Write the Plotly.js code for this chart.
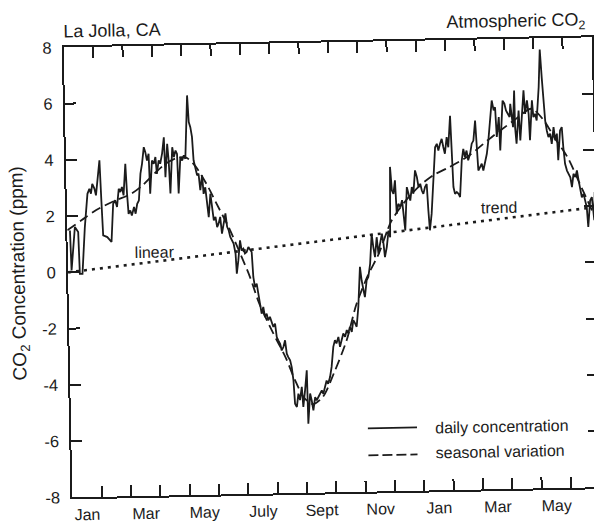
<!DOCTYPE html>
<html>
<head>
<meta charset="utf-8">
<script src="https://cdn.plot.ly/plotly-3.0.1.min.js"></script>
<style>
  html, body { margin: 0; padding: 0; overflow: hidden; background: #ffffff; }
  #chart {
    width: 610px;
    height: 529px;
    transform: rotate(-1.1deg);
    transform-origin: 297px 264.5px;
  }
</style>
</head>
<body>
<div id="chart"></div>
<script>
// Time axis is in months since 1 January of the first year (0 .. 18).
const monthLabels = ['Jan', 'Mar', 'May', 'July', 'Sept', 'Nov', 'Jan', 'Mar', 'May'];
const monthLabelPos = [0.5, 2.5, 4.5, 6.5, 8.5, 10.5, 12.5, 14.5, 16.5];
const monthStarts = [1, 2, 3, 4, 5, 6, 7, 8, 9, 10, 11, 12, 13, 14, 15, 16, 17];

const yTickVals = [-8, -6, -4, -2, 0, 2, 4, 6, 8];
const yTickText = ['-8', '-6', '-4', '-2', '0', '2', '4', '6', '8'];

// Daily CO2 concentration anomaly (ppm)
const dailyMonth = [
  0.09, 0.12, 0.26, 0.37, 0.40, 0.49, 0.60, 0.71, 0.78, 0.83, 0.88, 0.95, 1.00, 1.14, 1.18, 1.22,
  1.36, 1.45, 1.50, 1.58, 1.65, 1.71, 1.78, 1.83, 1.89, 1.94, 2.02, 2.06, 2.10, 2.16, 2.21, 2.29,
  2.34, 2.40, 2.46, 2.53, 2.59, 2.66, 2.71, 2.76, 2.82, 2.85, 2.93, 2.99, 3.05, 3.09, 3.16, 3.21,
  3.28, 3.35, 3.38, 3.46, 3.50, 3.54, 3.63, 3.68, 3.74, 3.79, 3.82, 3.90, 3.96, 4.02, 4.07, 4.17,
  4.21, 4.26, 4.31, 4.35, 4.40, 4.46, 4.51, 4.56, 4.63, 4.67, 4.73, 4.78, 4.83, 4.90, 4.95, 5.00,
  5.06, 5.11, 5.16, 5.22, 5.27, 5.34, 5.40, 5.45, 5.50, 5.55, 5.61, 5.66, 5.72, 5.75, 5.81, 5.88,
  5.93, 5.99, 6.04, 6.10, 6.16, 6.22, 6.27, 6.31, 6.36, 6.42, 6.47, 6.52, 6.57, 6.63, 6.68, 6.74,
  6.79, 6.85, 6.91, 6.96, 7.02, 7.07, 7.12, 7.18, 7.23, 7.29, 7.35, 7.40, 7.45, 7.51, 7.56, 7.61,
  7.65, 7.71, 7.77, 7.82, 7.89, 7.93, 8.00, 8.07, 8.09, 8.17, 8.22, 8.27, 8.34, 8.39, 8.45, 8.51,
  8.57, 8.62, 8.68, 8.74, 8.79, 8.86, 8.92, 8.99, 9.05, 9.10, 9.17, 9.22, 9.28, 9.34, 9.40, 9.46,
  9.51, 9.57, 9.63, 9.69, 9.75, 9.80, 9.87, 9.95, 10.00, 10.05, 10.10, 10.17, 10.23, 10.30, 10.37, 10.42,
  10.47, 10.54, 10.59, 10.65, 10.72, 10.77, 10.81, 10.88, 10.95, 11.00, 11.04, 11.09, 11.14, 11.20, 11.24, 11.30,
  11.37, 11.43, 11.47, 11.52, 11.60, 11.65, 11.71, 11.77, 11.82, 11.89, 11.95, 12.00, 12.06, 12.11, 12.16, 12.22,
  12.28, 12.32, 12.36, 12.43, 12.51, 12.59, 12.65, 12.70, 12.76, 12.82, 12.87, 12.92, 12.99, 13.04, 13.12, 13.15,
  13.19, 13.24, 13.30, 13.36, 13.41, 13.49, 13.55, 13.60, 13.66, 13.71, 13.78, 13.84, 13.90, 13.97, 14.01, 14.05,
  14.11, 14.17, 14.22, 14.29, 14.35, 14.41, 14.48, 14.55, 14.61, 14.66, 14.70, 14.78, 14.81, 14.92, 14.98, 15.03,
  15.09, 15.15, 15.18, 15.26, 15.32, 15.33, 15.37, 15.46, 15.50, 15.57, 15.64, 15.68, 15.75, 15.80, 15.83, 15.92,
  15.96, 16.02, 16.07, 16.16, 16.22, 16.27, 16.31, 16.36, 16.41, 16.46, 16.52, 16.57, 16.64, 16.69, 16.75, 16.78,
  16.86, 16.92, 16.96, 17.01, 17.07, 17.12, 17.18, 17.23, 17.29, 17.35, 17.41, 17.46, 17.51, 17.56, 17.62, 17.67,
  17.72, 17.76, 17.84, 17.90, 17.94, 17.97, 18.00
];
const dailyPpm = [
  1.49, 0.07, 1.61, 1.43, -0.06, -0.06, 1.60, 2.78, 2.96, 2.78, 3.13, 2.96, 2.72, 3.96, 2.54, 1.29,
  1.23, 1.11, 1.05, 2.41, 2.53, 2.29, 2.94, 2.82, 3.00, 2.70, 3.82, 2.75, 2.04, 2.16, 1.98, 2.28,
  2.04, 2.39, 2.51, 3.46, 3.81, 4.40, 4.22, 3.92, 4.16, 2.74, 3.92, 3.80, 4.04, 3.44, 3.92, 3.80,
  4.16, 4.74, 3.32, 4.50, 3.92, 2.74, 4.38, 4.03, 4.26, 4.14, 2.73, 4.02, 3.90, 4.08, 3.96, 6.21,
  5.26, 5.08, 4.73, 3.90, 3.66, 3.36, 3.42, 2.83, 3.36, 2.70, 2.93, 2.46, 1.87, 2.70, 2.22, 1.75,
  1.87, 1.51, 1.63, 1.87, 1.27, 1.75, 1.99, 1.51, 1.39, 1.15, 1.03, 0.91, 0.55, -0.16, 0.31, 1.02,
  0.66, 0.72, 0.55, 0.60, 0.78, 0.66, 0.60, -0.29, -0.65, -0.53, -0.89, -1.13, -1.60, -1.36, -1.72, -1.60,
  -1.84, -1.72, -1.96, -2.08, -1.96, -2.44, -2.56, -2.68, -2.92, -2.80, -2.56, -3.04, -3.16, -3.28, -3.52, -3.99,
  -4.82, -4.94, -4.47, -4.70, -4.23, -4.94, -4.35, -3.64, -5.54, -4.47, -4.72, -5.07, -4.60, -4.72, -4.60, -4.49,
  -4.37, -4.49, -4.25, -4.02, -4.14, -3.90, -3.54, -2.83, -2.59, -2.71, -2.48, -2.83, -2.59, -2.36, -2.48, -2.24,
  -2.36, -2.12, -2.31, -1.89, -2.01, -2.13, -1.42, 0.00, -0.49, -0.84, -1.08, -0.49, -0.37, 0.10, 1.16, 0.69,
  0.33, 1.04, 0.45, 0.80, 1.16, 0.80, 0.33, 0.69, 1.27, 1.03, 3.53, 2.69, 2.57, 3.05, 1.86, 2.21,
  2.10, 2.34, 1.74, 1.26, 2.80, 2.56, 2.32, 2.80, 2.56, 3.39, 3.15, 2.79, 2.91, 2.67, 2.55, 2.79,
  2.90, 1.96, 1.25, 1.84, 2.90, 4.20, 4.32, 4.08, 4.32, 4.49, 4.20, 3.96, 4.55, 4.19, 5.31, 3.95,
  2.77, 2.53, 2.59, 2.53, 2.41, 3.71, 4.12, 3.83, 4.06, 3.71, 3.94, 4.30, 4.41, 5.12, 3.82, 3.34,
  3.46, 3.58, 3.34, 3.70, 3.93, 4.40, 5.23, 5.82, 5.47, 5.58, 4.52, 5.23, 4.04, 5.81, 5.70, 5.46,
  5.34, 5.22, 5.69, 4.86, 6.16, 4.86, 4.27, 5.45, 4.38, 5.21, 6.16, 5.32, 5.80, 5.32, 4.38, 5.80,
  5.20, 5.32, 5.08, 6.27, 7.60, 6.60, 5.67, 5.07, 4.71, 4.48, 4.60, 4.24, 4.83, 4.36, 4.60, 3.65,
  4.71, 4.83, 4.12, 3.52, 3.28, 3.16, 3.04, 2.69, 3.16, 3.04, 3.28, 2.92, 2.56, 2.32, 2.44, 2.20,
  1.97, 1.26, 2.20, 2.32, 1.84, 1.50, 2.50
];

// Smoothed seasonal cycle (ppm)
const seasonalMonth = [0, 0.5, 1.0, 1.6, 2.2, 2.6, 3.0, 3.4, 3.8, 4.1, 4.4, 4.8, 5.1, 5.5, 5.9, 6.2,
  6.5, 6.95, 7.35, 7.65, 7.95, 8.25, 8.6, 9.0, 9.45, 9.8, 10.2, 10.6, 11.05, 11.5, 12.0, 12.5,
  13.0, 13.7, 14.5, 15.3, 15.9, 16.3, 16.7, 17.1, 17.5, 18.0];
const seasonalPpm = [1.5, 1.85, 2.2, 2.5, 2.75, 3.05, 3.45, 3.8, 4.0, 4.0, 3.7, 3.0, 2.35, 1.5, 0.5, -0.3,
  -1.25, -2.3, -3.15, -3.95, -4.6, -4.85, -4.6, -3.75, -2.6, -1.35, -0.35, 0.45, 1.6, 2.25, 2.8, 3.2,
  3.45, 3.85, 4.5, 5.1, 5.5, 5.1, 4.4, 3.75, 2.8, 1.6];

// Linear trend (ppm)
const trendMonth = [0, 18];
const trendPpm = [0, 1.96];

const ink = '#1b1b1b';
const fontFamily = 'Liberation Sans, Arial, Helvetica, sans-serif';

const traces = [
  {
    x: trendMonth, y: trendPpm, xaxis: 'x2', yaxis: 'y',
    mode: 'lines', line: { color: ink, width: 2.6, dash: '3px,5px' },
    hoverinfo: 'skip'
  },
  {
    x: seasonalMonth, y: seasonalPpm, xaxis: 'x', yaxis: 'y',
    mode: 'lines', line: { color: ink, width: 1.8, dash: '10px,5px', shape: 'spline', smoothing: 0.8 },
    name: 'seasonal variation'
  },
  {
    x: dailyMonth, y: dailyPpm, xaxis: 'x', yaxis: 'y',
    mode: 'lines', line: { color: ink, width: 1.8 },
    name: 'daily concentration'
  }
];

const layout = {
  width: 610,
  height: 529,
  margin: { l: 68, r: 14, t: 43, b: 36 },
  paper_bgcolor: '#ffffff',
  plot_bgcolor: 'rgba(0,0,0,0)',
  showlegend: false,
  font: { family: fontFamily, color: ink, size: 16 },
  xaxis: {
    range: [0, 18],
    tickmode: 'array',
    tickvals: monthLabelPos,
    ticktext: monthLabels,
    ticks: '',
    showline: false,
    showgrid: false,
    zeroline: false,
    tickfont: { size: 16, color: ink },
    ticklabelstandoff: 6,
    fixedrange: true
  },
  xaxis2: {
    overlaying: 'x',
    range: [0, 18],
    tickmode: 'array',
    tickvals: monthStarts,
    ticks: 'inside',
    ticklen: 11,
    tickwidth: 2,
    tickcolor: ink,
    showticklabels: false,
    showline: true,
    linewidth: 2,
    linecolor: ink,
    mirror: 'ticks',
    showgrid: false,
    zeroline: false,
    fixedrange: true
  },
  yaxis: {
    range: [-8, 8],
    tickmode: 'array',
    tickvals: yTickVals,
    ticktext: yTickText,
    ticks: 'inside',
    ticklen: 11,
    tickwidth: 2,
    tickcolor: ink,
    showline: true,
    linewidth: 2,
    linecolor: ink,
    mirror: 'ticks',
    showgrid: false,
    zeroline: false,
    tickfont: { size: 16.5, color: ink },
    ticklabelstandoff: 7,
    title: { text: 'CO<sub>2</sub> Concentration (ppm)', font: { size: 19, color: ink }, standoff: 11 },
    fixedrange: true
  },
  shapes: [
    // key samples
    { type: 'line', xref: 'paper', yref: 'y', x0: 0.562, x1: 0.655, y0: -5.75, y1: -5.75,
      line: { color: ink, width: 1.8 } },
    { type: 'line', xref: 'paper', yref: 'y', x0: 0.562, x1: 0.655, y0: -6.71, y1: -6.71,
      line: { color: ink, width: 1.8, dash: '10px,4px' } }
  ],
  annotations: [
    { text: 'La Jolla, CA', xref: 'paper', yref: 'paper', x: 0, y: 1, xanchor: 'left', yanchor: 'middle',
      yshift: 16, xshift: -2, showarrow: false, font: { size: 18, color: ink } },
    { text: 'Atmospheric CO<sub>2</sub>', xref: 'paper', yref: 'paper', x: 0.992, y: 1, xanchor: 'right',
      yanchor: 'middle', yshift: 17, showarrow: false, font: { size: 18, color: ink } },
    { text: 'linear', xref: 'x', yref: 'y', x: 2.97, y: 0.65, showarrow: false, font: { size: 16, color: ink } },
    { text: 'trend', xref: 'x', yref: 'y', x: 14.72, y: 2.01, showarrow: false, font: { size: 16, color: ink } },
    { text: 'daily concentration', xref: 'paper', yref: 'y', x: 0.685, y: -5.79, xanchor: 'left',
      showarrow: false, font: { size: 16, color: ink } },
    { text: 'seasonal variation', xref: 'paper', yref: 'y', x: 0.685, y: -6.68, xanchor: 'left',
      showarrow: false, font: { size: 16, color: ink } }
  ]
};

Plotly.newPlot('chart', traces, layout, { displayModeBar: false, staticPlot: true });
</script>
</body>
</html>
